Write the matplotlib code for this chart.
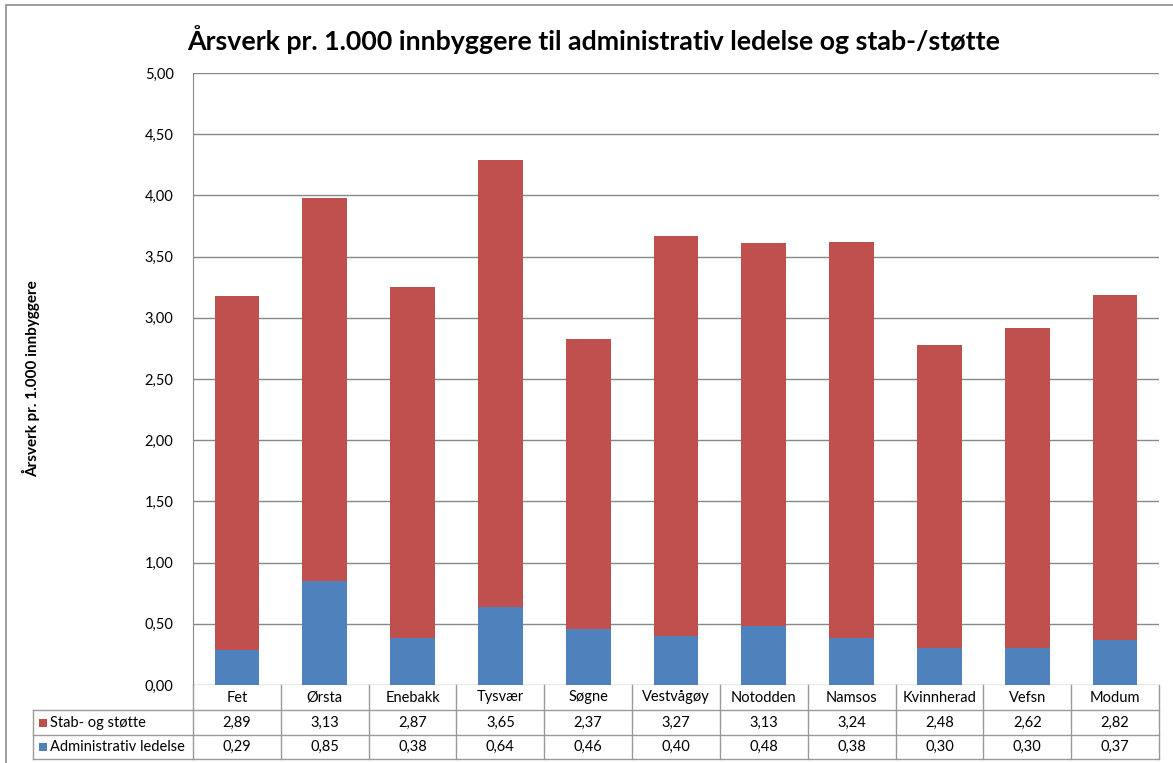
import matplotlib
matplotlib.use("Agg")
import matplotlib.pyplot as plt
from matplotlib.patches import Rectangle
import matplotlib.transforms as mtransforms

plt.rcParams['font.family'] = ['Lato', 'DejaVu Sans']

kommuner = ['Fet', 'Ørsta', 'Enebakk', 'Tysvær', 'Søgne', 'Vestvågøy',
            'Notodden', 'Namsos', 'Kvinnherad', 'Vefsn', 'Modum']
admin = [0.29, 0.85, 0.38, 0.64, 0.46, 0.40, 0.48, 0.38, 0.30, 0.30, 0.37]
stab = [2.89, 3.13, 2.87, 3.65, 2.37, 3.27, 3.13, 3.24, 2.48, 2.62, 2.82]
serier = ['Stab- og støtte', 'Administrativ ledelse']
yticks = [0, 0.5, 1, 1.5, 2, 2.5, 3, 3.5, 4, 4.5, 5]

rod = '#C0504D'
bla = '#4F81BD'
grid = '#888888'
linje = '#9A9A9A'

W, H = 1173, 763
fig = plt.figure(figsize=(W / 100, H / 100), dpi=100)

# ramme rundt hele diagrammet (høyre side er kuttet)
fig.patches.append(Rectangle((6 / W, -0.01), 1.1, 1 - 5 / H + 0.01, transform=fig.transFigure,
                             fill=False, edgecolor='#8C8C8C', lw=1.2))

ax = fig.add_axes([193 / W, 1 - 685 / H, (1159 - 193) / W, (685 - 73) / H])
x = list(range(len(kommuner)))
ax.bar(x, admin, width=0.51, color=bla, zorder=3)
ax.bar(x, stab, width=0.51, bottom=admin, color=rod, zorder=3)

ax.set_xlim(-0.5, len(kommuner) - 0.5)
ax.set_ylim(0, 5)
ax.set_yticks(yticks)
ax.yaxis.set_major_formatter(plt.FuncFormatter(lambda v, p: ('%.2f' % v).replace('.', ',')))
ax.tick_params(axis='y', length=0, pad=14, labelsize=10.5)
ax.set_xticks([])
ax.grid(axis='y', color=grid, lw=1, zorder=0)
for s in ['top', 'right', 'bottom']:
    ax.spines[s].set_visible(False)
ax.spines['left'].set_color(grid)

ax.set_ylabel('Årsverk pr. 1.000 innbyggere', fontsize=11, fontweight='bold')
ax.yaxis.set_label_coords((40 - 193) / 966, 0.5)

fig.text(594 / W, 1 - 40 / H, 'Årsverk pr. 1.000 innbyggere til administrativ ledelse og stab-/støtte',
         ha='center', va='center', fontsize=19.3, fontweight='bold')

# datatabell under aksen
trans = mtransforms.blended_transform_factory(ax.transData, ax.transAxes)
ph = (685 - 73)
rad = [0, -25 / ph, -50 / ph, -74 / ph]
lab_x0 = (33 - 193) / (1159 - 193)
xmax = len(kommuner) - 0.5
lk = dict(color=linje, lw=1, clip_on=False)

# horisontale linjer
for r in rad[1:]:
    ax.plot([-0.5, xmax], [r, r], transform=trans, **lk)
    ax.plot([lab_x0, 0], [r, r], transform=ax.transAxes, **lk)
ax.plot([lab_x0, lab_x0], [rad[1], rad[3]], transform=ax.transAxes, **lk)
# vertikale linjer
for i in range(len(kommuner) + 1):
    ax.plot([i - 0.5, i - 0.5], [rad[0], rad[3]], transform=trans, **lk)

for i, k in enumerate(kommuner):
    ax.text(i, (rad[0] + rad[1]) / 2, k, transform=trans, ha='center', va='center', fontsize=10.5)
    ax.text(i, (rad[1] + rad[2]) / 2, ('%.2f' % stab[i]).replace('.', ','), transform=trans,
            ha='center', va='center', fontsize=10.5)
    ax.text(i, (rad[2] + rad[3]) / 2, ('%.2f' % admin[i]).replace('.', ','), transform=trans,
            ha='center', va='center', fontsize=10.5)

for j, (navn, farge) in enumerate(zip(serier, [rod, bla])):
    ymid = (rad[j + 1] + rad[j + 2]) / 2
    sw = 8 / (1159 - 193)
    sh = 8 / ph
    ax.add_patch(Rectangle((lab_x0 + 6 / 966, ymid - sh / 2), sw, sh, transform=ax.transAxes,
                           facecolor=farge, edgecolor='none', clip_on=False))
    ax.text(lab_x0 + 17 / 966, ymid, navn, transform=ax.transAxes, ha='left', va='center', fontsize=10.5)

fig.savefig('out.png', dpi=100)
